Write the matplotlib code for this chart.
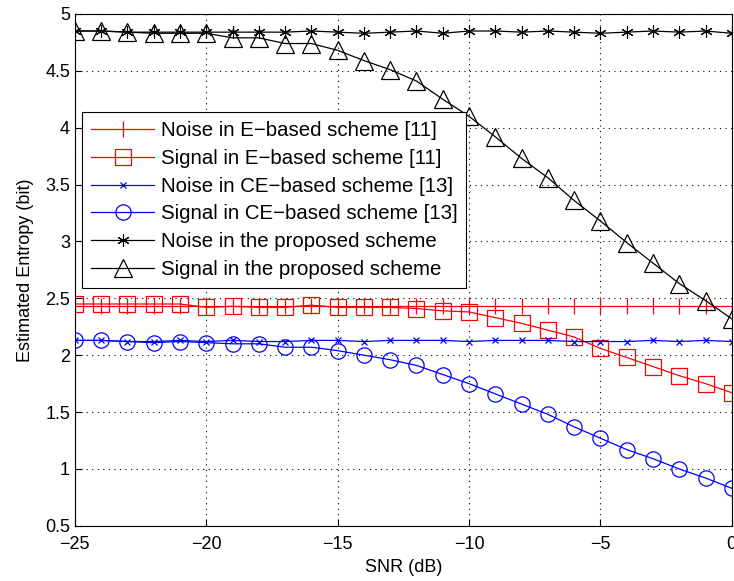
import matplotlib.pyplot as plt
import numpy as np

plt.rcParams['font.family'] = ['Liberation Sans', 'DejaVu Sans']

snr = np.arange(-25, 1)

noise_e = [2.43, 2.43, 2.43, 2.43, 2.43, 2.43, 2.43, 2.43, 2.43, 2.43, 2.43, 2.43, 2.43,
           2.43, 2.43, 2.43, 2.43, 2.43, 2.43, 2.43, 2.43, 2.43, 2.43, 2.43, 2.43, 2.43]
signal_e = [2.45, 2.45, 2.45, 2.45, 2.45, 2.42, 2.43, 2.42, 2.42, 2.44, 2.42, 2.42, 2.42,
            2.41, 2.39, 2.38, 2.33, 2.28, 2.22, 2.16, 2.06, 1.98, 1.90, 1.82, 1.75, 1.67]
noise_ce = [2.13, 2.13, 2.12, 2.12, 2.13, 2.12, 2.13, 2.12, 2.12, 2.13, 2.13, 2.12, 2.13,
            2.13, 2.13, 2.12, 2.13, 2.13, 2.13, 2.12, 2.12, 2.12, 2.13, 2.12, 2.13, 2.12]
signal_ce = [2.13, 2.13, 2.12, 2.11, 2.12, 2.11, 2.10, 2.10, 2.07, 2.07, 2.04, 2.00, 1.96,
             1.91, 1.83, 1.75, 1.66, 1.57, 1.48, 1.37, 1.27, 1.17, 1.09, 1.00, 0.92, 0.83]
noise_prop = [4.85, 4.85, 4.84, 4.84, 4.84, 4.84, 4.84, 4.84, 4.84, 4.85, 4.84, 4.83, 4.84,
              4.85, 4.83, 4.85, 4.85, 4.84, 4.85, 4.84, 4.83, 4.84, 4.85, 4.84, 4.85, 4.83]
signal_prop = [4.85, 4.85, 4.84, 4.83, 4.83, 4.83, 4.79, 4.79, 4.74, 4.74, 4.68, 4.59, 4.51,
               4.41, 4.25, 4.10, 3.92, 3.73, 3.56, 3.36, 3.18, 2.99, 2.81, 2.63, 2.48, 2.32]

fig = plt.figure(figsize=(7.34, 5.81), dpi=100)
ax = fig.add_axes([0.102, 0.095, 0.895, 0.881])

lw = 0.9
ax.plot(snr, noise_e, '-', color='red', marker='|', ms=12, mew=0.9, lw=lw,
        label='Noise in E\u2212based scheme [11]')
ax.plot(snr, signal_e, '-', color='red', marker='s', ms=11, mfc='none', mew=0.9, lw=lw,
        label='Signal in E\u2212based scheme [11]')
ax.plot(snr, noise_ce, '-', color='blue', marker='x', ms=5, mew=0.9, lw=lw,
        label='Noise in CE\u2212based scheme [13]')
ax.plot(snr, signal_ce, '-', color='blue', marker='o', ms=11, mfc='none', mew=0.9, lw=lw,
        label='Signal in CE\u2212based scheme [13]')
ax.plot(snr, noise_prop, '-', color='black', marker=(6, 2, 0), ms=9, mew=0.8, lw=lw,
        label='Noise in the proposed scheme')
ax.plot(snr, signal_prop, '-', color='black', marker='^', ms=13, mfc='none', mew=0.9, lw=lw,
        label='Signal in the proposed scheme')

ax.set_xlim(-25, 0)
ax.set_ylim(0.5, 5)
ax.set_xticks(np.arange(-25, 1, 5))
ax.set_yticks(np.arange(0.5, 5.01, 0.5))
ax.set_yticklabels(['0.5', '1', '1.5', '2', '2.5', '3', '3.5', '4', '4.5', '5'])
ax.grid(True, linestyle=(0, (1, 4)), color='black', linewidth=0.8)
ax.tick_params(labelsize=13, direction='in', length=5)
ax.tick_params(axis='x', pad=7)
ax.set_xlabel('SNR (dB)', fontsize=13, labelpad=5)
ax.set_ylabel('Estimated Entropy (bit)', fontsize=13, labelpad=8)

leg = ax.legend(loc='upper left', bbox_to_anchor=(0.0107, 0.8086), borderaxespad=0,
                fontsize=14.7, handlelength=3.1, handletextpad=0.3,
                fancybox=False, framealpha=1, edgecolor='black', borderpad=0.45,
                labelspacing=0.43)
leg.get_frame().set_linewidth(0.8)

plt.savefig('out.png')
